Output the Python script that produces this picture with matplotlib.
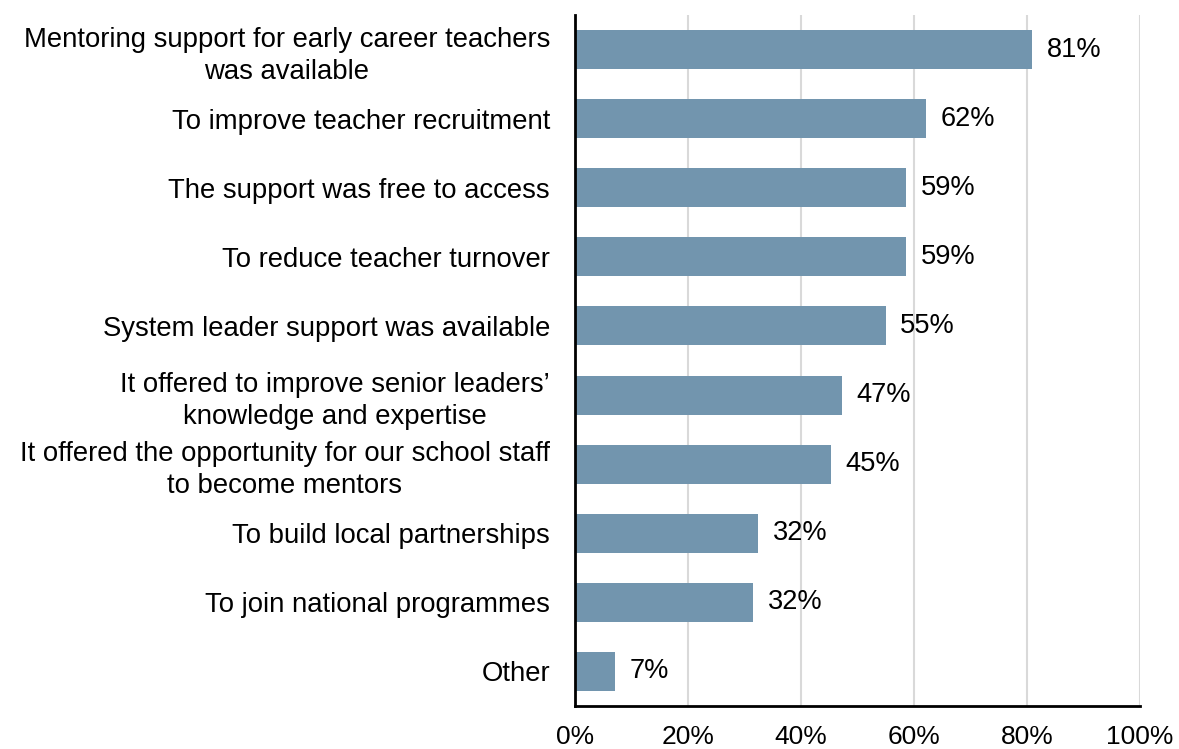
import matplotlib.pyplot as plt
from matplotlib.ticker import FuncFormatter

labels = [
    "Mentoring support for early career teachers\nwas available",
    "To improve teacher recruitment",
    "The support was free to access",
    "To reduce teacher turnover",
    "System leader support was available",
    "It offered to improve senior leaders\u2019\nknowledge and expertise",
    "It offered the opportunity for our school staff\nto become mentors",
    "To build local partnerships",
    "To join national programmes",
    "Other",
]
values = [80.9, 62.1, 58.6, 58.6, 55.0, 47.3, 45.3, 32.4, 31.5, 7.1]
shown = [81, 62, 59, 59, 55, 47, 45, 32, 32, 7]
xticks = [0, 20, 40, 60, 80, 100]


def main():
    plt.rcParams.update({"font.family": ["Liberation Sans", "DejaVu Sans"]})
    fig = plt.figure(figsize=(11.79, 7.49), dpi=100)
    ax = fig.add_axes([0.4877, 0.0574, 0.9669 - 0.4877, 0.98 - 0.0574])

    y = list(range(len(labels)))
    bars = ax.barh(y, values, height=0.565, color="#7295ae", zorder=3)
    for b, v in zip(bars, shown):
        ax.annotate(f"{v}%", (b.get_width(), b.get_y() + b.get_height() / 2),
                    xytext=(10.5, 0), textcoords="offset points",
                    va="center", ha="left", fontsize=19.6)

    ax.set_ylim(len(labels) - 0.5, -0.5)
    ax.set_xlim(0, 100)
    ax.set_yticks(y)
    ax.set_yticklabels(labels, fontsize=19.8, multialignment="center",
                       linespacing=1.3)
    ax.set_xticks(xticks)
    ax.xaxis.set_major_formatter(FuncFormatter(lambda v, p: f"{v:.0f}%"))
    ax.tick_params(axis="x", length=0, pad=14, labelsize=19)
    ax.tick_params(axis="y", length=0, pad=18)

    ax.grid(axis="x", color="#d9d9d9", linewidth=1.5, zorder=0)
    for s in ["top", "right"]:
        ax.spines[s].set_visible(False)
    ax.spines["left"].set_linewidth(2)
    ax.spines["bottom"].set_linewidth(2)
    ax.spines["left"].set_zorder(4)

    fig.savefig("out.png", dpi=100)


if __name__ == "__main__":
    main()
